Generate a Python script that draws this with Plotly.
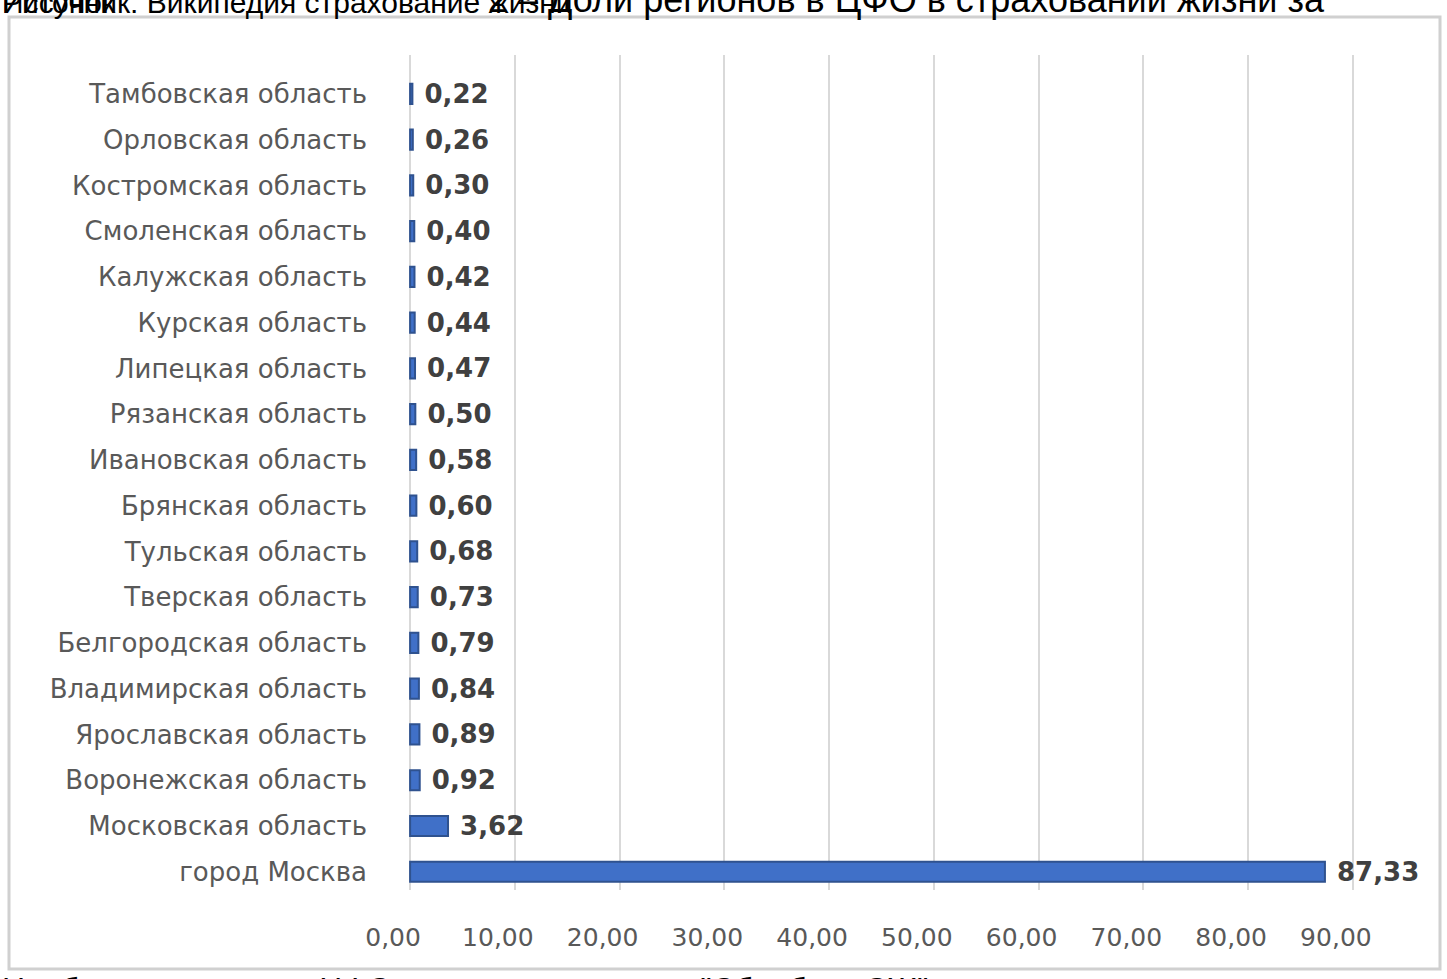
import plotly.graph_objects as go

regions = ["Тамбовская область", "Орловская область", "Костромская область", "Смоленская область",
           "Калужская область", "Курская область", "Липецкая область", "Рязанская область",
           "Ивановская область", "Брянская область", "Тульская область", "Тверская область",
           "Белгородская область", "Владимирская область", "Ярославская область",
           "Воронежская область", "Московская область", "город Москва"]
shares = [0.22, 0.26, 0.30, 0.40, 0.42, 0.44, 0.47, 0.50, 0.58, 0.60, 0.68, 0.73,
          0.79, 0.84, 0.89, 0.92, 3.62, 87.33]
x_ticks = [0, 10, 20, 30, 40, 50, 60, 70, 80, 90]

top_source = "Источник: Википедия страхование жизни"
top_fig = "Рисунок"
top_caption = "2 – Доли регионов в ЦФО в страховании жизни за"
bottom_text = "Наибольшую долю в ЦФО занимает компания \"Сбербанк СЖ\""

W, H = 1447, 979
L, R, T, B = 408, 1355, 55, 890

def px_x(p):
    return (p - L) / (R - L)

def px_y(p):
    return (B - p) / (B - T)

fig = go.Figure(go.Bar(
    y=regions, x=shares, orientation="h", width=0.44,
    marker=dict(color="#4070C8", line=dict(color="#2F528F", width=2)),
    texttemplate=" %{x:.2f}", textposition="outside", constraintext="none",
    textfont=dict(family="DejaVu Sans", size=26, color="#404040", weight="bold"),
    cliponaxis=False, hoverinfo="skip",
))

fig.update_layout(
    width=W, height=H, separators=", ",
    margin=dict(l=L, r=W - R, t=T, b=H - B, pad=0),
    paper_bgcolor="white", plot_bgcolor="white", showlegend=False,
    xaxis=dict(range=[-0.2, 90.2], tickvals=x_ticks, tickformat=".2f", showgrid=True,
               gridcolor="#D9D9D9", gridwidth=2, zeroline=False, showline=False,
               ticks="", ticklabelstandoff=30, ticklabelshift=-17,
               tickfont=dict(family="DejaVu Sans", size=25, color="#595959")),
    yaxis=dict(type="category", range=[17.4, -0.85], showgrid=False, zeroline=False,
               showline=False, ticks="", ticklabelstandoff=40,
               tickfont=dict(family="DejaVu Sans", size=26, color="#595959")),
    shapes=[dict(type="rect", xref="paper", yref="paper",
                 x0=px_x(9), x1=px_x(1440), y0=px_y(969), y1=px_y(17),
                 line=dict(color="#D0D0D0", width=3), fillcolor="rgba(0,0,0,0)", layer="below")],
    annotations=[
        dict(text=top_source, xref="paper", yref="paper", x=px_x(0), y=px_y(21),
             xanchor="left", yanchor="bottom", showarrow=False,
             font=dict(family="Liberation Sans", size=30, color="black")),
        dict(text=top_fig, xref="paper", yref="paper", x=px_x(0), y=px_y(21),
             xanchor="left", yanchor="bottom", showarrow=False,
             font=dict(family="Liberation Sans", size=30, color="black")),
        dict(text=top_caption, xref="paper", yref="paper", x=px_x(486), y=px_y(22),
             xanchor="left", yanchor="bottom", showarrow=False,
             font=dict(family="Liberation Sans", size=36, color="black")),
        dict(text=bottom_text, xref="paper", yref="paper", x=px_x(0), y=px_y(969),
             xanchor="left", yanchor="top", showarrow=False,
             font=dict(family="Liberation Sans", size=32, color="black")),
    ],
)

fig.write_html("out.html", config={"displayModeBar": False},
               post_script="document.body.style.margin='0';document.body.style.overflow='hidden';")
